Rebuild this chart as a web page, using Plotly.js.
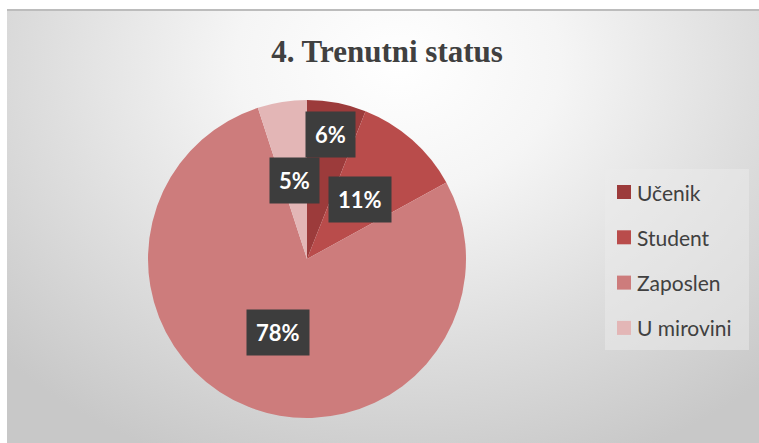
<!DOCTYPE html>
<html>
<head>
<meta charset="utf-8">
<script src="https://cdn.plot.ly/plotly-3.0.1.min.js"></script>
<style>
  html, body { margin: 0; padding: 0; background: #ffffff; width: 759px; height: 443px; overflow: hidden; }
  #bg { position: absolute; left: 7px; top: 9px; width: 752px; height: 434px;
        border-top: 2px solid #bcbcbc; box-sizing: border-box;
        background: radial-gradient(ellipse 72% 100% at 52% 12%, #ffffff 0%, #f5f5f5 30%, #dedede 65%, #c8c8c8 100%); }
  #chart { position: absolute; left: 0; top: 0; width: 759px; height: 443px; }
</style>
</head>
<body>
<div id="bg"></div>
<div id="chart"></div>
<script>
// Data
const categories = ["Učenik", "Student", "Zaposlen", "U mirovini"];
const values = [6, 11, 78, 5];
const percentLabels = ["6%", "11%", "78%", "5%"];
const colors = ["#9c3b3b", "#b94c4b", "#cd7c7c", "#e3b6b6"];
const chartTitle = "4. Trenutni status";

// Layout geometry (pixels)
const W = 759, H = 443;
const cxPx = 307, cyPx = 259, rPx = 159;
const labelRadius = [0.80, 0.50, 0.50, 0.50];

const total = values.reduce((a, b) => a + b, 0);
const annotations = [];
let cum = 0;
values.forEach((v, i) => {
  const mid = (cum + v / 2) / total * 2 * Math.PI;
  cum += v;
  const dx = labelRadius[i] * rPx * Math.sin(mid);
  const dy = labelRadius[i] * rPx * Math.cos(mid);
  annotations.push({
    x: (cxPx + dx) / W, y: 1 - (cyPx - dy) / H, xref: 'paper', yref: 'paper',
    text: '<b>' + percentLabels[i] + '</b>', showarrow: false,
    font: { family: 'Lato, "Open Sans", sans-serif', size: 22, color: '#ffffff' },
    bgcolor: '#3d3d3d', borderpad: 9, xanchor: 'center', yanchor: 'middle'
  });
});

// Manual legend
const shapes = [];
const legLeft = 605, legTop = 169, legRight = 749, legBottom = 350;
shapes.push({ type: 'rect', xref: 'paper', yref: 'paper',
  x0: legLeft / W, x1: legRight / W, y0: 1 - legBottom / H, y1: 1 - legTop / H,
  fillcolor: 'rgba(235,235,235,0.5)', line: { width: 0 }, layer: 'below' });
categories.forEach((c, i) => {
  const yc = 192 + i * 45.3;
  shapes.push({ type: 'rect', xref: 'paper', yref: 'paper',
    x0: 617 / W, x1: 631 / W, y0: 1 - (yc + 7) / H, y1: 1 - (yc - 7) / H,
    fillcolor: colors[i], line: { width: 0 } });
  annotations.push({ x: 635 / W, y: 1 - yc / H, xref: 'paper', yref: 'paper',
    text: c, showarrow: false, xanchor: 'left', yanchor: 'middle',
    font: { family: 'Lato, "Open Sans", sans-serif', size: 21, color: '#404040' } });
});

const trace = {
  type: 'pie', labels: categories, values: values, sort: false,
  direction: 'clockwise', rotation: 0,
  marker: { colors: colors, line: { width: 0 } },
  textinfo: 'none', hoverinfo: 'label+percent',
  domain: { x: [(cxPx - rPx) / W, (cxPx + rPx) / W], y: [1 - (cyPx + rPx) / H, 1 - (cyPx - rPx) / H] }
};

const layout = {
  width: W, height: H, margin: { l: 0, r: 0, t: 0, b: 0 },
  paper_bgcolor: 'rgba(0,0,0,0)', plot_bgcolor: 'rgba(0,0,0,0)',
  showlegend: false,
  title: { text: '<b>' + chartTitle + '</b>', x: 387 / W, xanchor: 'center', y: 1 - 51 / H, yanchor: 'middle',
           font: { family: '"Liberation Serif", "Times New Roman", serif', size: 31, color: '#404040' } },
  annotations: annotations, shapes: shapes
};

Plotly.newPlot('chart', [trace], layout, { displayModeBar: false, staticPlot: true });
</script>
</body>
</html>
